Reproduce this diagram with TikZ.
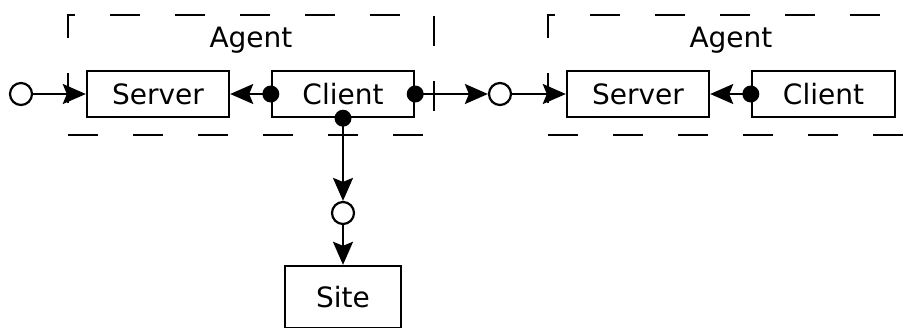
\documentclass[tikz,border=0pt]{standalone}
\usepackage{fontspec}
\setmainfont{DejaVu Sans}
\usetikzlibrary{arrows.meta}
\tikzset{
  box/.style={draw, line width=2.4pt, minimum height=46pt, inner sep=0pt, font=\fontsize{28}{34}\selectfont},
  lbl/.style={anchor=base, inner sep=0pt, font=\fontsize{28}{34}\selectfont},
  port/.style={circle, draw, line width=2.2pt, fill=white, minimum size=22pt, inner sep=0pt},
  conn/.style={line width=2.2pt, -{Stealth[length=23pt, width=20pt, inset=4pt]}},
  frame/.style={line width=2.6pt, dash pattern=on 30pt off 35pt, dash phase=33pt},
}
\begin{document}
\begin{tikzpicture}[x=1pt, y=-1pt]
\useasboundingbox (0,0) rectangle (908,327);
\clip (0,0) rectangle (908,327);
% containers
\draw[frame] (68,135) -- (68,15) -- (434,15) -- (434,135) -- cycle;
\draw[frame] (548,135) -- (548,15) -- (914,15) -- (914,135) -- cycle;
\node[lbl] (ag1) at (251,47) {Agent};
\node[lbl] (ag2) at (731,47) {Agent};
% boxes
\node[box, minimum width=142pt] (s1) at (158,94) {Server};
\node[box, minimum width=142pt] (c1) at (343,94) {Client};
\node[box, minimum width=142pt] (s2) at (638,94) {Server};
\node[box, minimum width=143pt] (c2) at (823.5,94) {Client};
\node[box, minimum width=116pt, minimum height=62pt] (site) at (343,297) {Site};
% ports
\node[port] (p0) at (21,94) {};
\node[port] (p1) at (500,94) {};
\node[port] (p2) at (343,213) {};
% connectors
\draw[conn] (p0) -- (s1.west);
\draw[conn] (c1.west) -- (s1.east);
\draw[conn] (c1.east) -- (p1);
\draw[conn] (p1) -- (s2.west);
\draw[conn] (c2.west) -- (s2.east);
\draw[conn] (c1.south) -- (p2);
\draw[conn] (p2) -- (site.north);
% dots
\fill (c1.west) circle (8.5);
\fill (c1.east) circle (8.5);
\fill (c1.south) circle (8.5);
\fill (c2.west) circle (8.5);
\end{tikzpicture}
\end{document}
